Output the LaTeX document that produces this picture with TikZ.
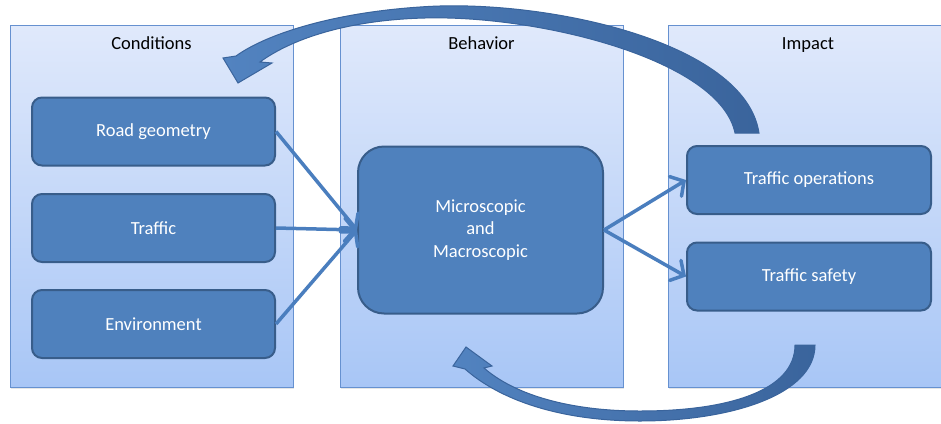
\documentclass[tikz,border=0pt]{standalone}
\usepackage{fontspec}
\setmainfont{Carlito}
\usepackage{tikz}
\usetikzlibrary{arrows.meta}
\usetikzlibrary{shadows}
\definecolor{paneltop}{RGB}{224,233,251}
\definecolor{panelbot}{RGB}{168,198,246}
\definecolor{panelline}{RGB}{102,145,208}
\definecolor{boxfill}{RGB}{79,129,189}
\definecolor{boxline}{RGB}{56,93,138}
\definecolor{linkcol}{RGB}{74,126,190}
\definecolor{bendlight}{RGB}{82,131,192}
\definecolor{benddark}{RGB}{58,100,156}
\tikzset{
	every node/.style={font=\fontsize{18.5}{22.5}\selectfont},
	align=center,
	panel/.style={
		draw=panelline,
		top color=paneltop,
		bottom color=panelbot,
		minimum width=283pt,
		minimum height=362pt,
		inner sep=0pt,
		drop shadow={shadow xshift=1pt,shadow yshift=-1.5pt,opacity=0.2},
	},
	title/.style={
		text=black,
		text height=13pt,
		text depth=4pt,
	},
	box/.style={
		draw=boxline,
		line width=2pt,
		fill=boxfill,
		rounded corners=10pt,
		text=white,
		minimum width=243pt,
		minimum height=68pt,
	},
	bigbox/.style={
		box,
		rounded corners=26pt,
		minimum width=245pt,
		minimum height=167pt,
	},
	link/.style={
		draw=linkcol,
		line width=3.5pt,
		-{Straight Barb[length=10pt,width=23pt,line cap=round]},
	},
	loop arrow/.style={
		draw=benddark,
		line width=1pt,
		left color=bendlight,
		right color=benddark,
	},
}

\begin{document}
\begin{tikzpicture}[x=1pt,y=-1pt]
		\useasboundingbox (0,0) rectangle (941,423);

		% the three stages
		\node[panel] 				(cond) at (151.5,206) {};
		\node[panel] 				(behav) at (481.5,206) {};
		\node[panel,minimum width=273pt] (impact) at (804.5,206) {};

		\node[title] 				(condT) at (151.5,45) {Conditions};
		\node[title] 				(behavT) at (481.5,45) {Behavior};
		\node[title] 				(impactT) at (808,45) {Impact};

		\node[box] 					(road) at (153.5,131.5) {Road geometry};
		\node[box] 					(traffic) at (153.5,228) {Traffic};
		\node[box] 					(env) at (153.5,324) {Environment};

		\node[bigbox] 				(micro) at (480.5,230) {Microscopic\\and\\Macroscopic};

		\node[box,minimum width=244pt] (ops) at (809,180) {Traffic operations};
		\node[box,minimum width=244pt] (safety) at (809,276.5) {Traffic safety};

		\draw[link] 				(road.east) -- (micro.west);
		\draw[link] 				(traffic.east) -- (micro.west);
		\draw[link] 				(env.east) -- (micro.west);
		\draw[link] 				(micro.east) -- (ops.west);
		\draw[link] 				(micro.east) -- (safety.west);

		% feedback arrows
		\path[loop arrow] (759,133) .. controls (745,40) and (540,-2) .. (420,7)
			.. controls (330,13) and (265,35) .. (236,56) -- (223,58) -- (238,83)
			-- (272,63) -- (260,62) .. controls (290,40) and (345,20) .. (425,18)
			.. controls (540,15) and (720,60) .. (735,133) -- cycle;
		\path[loop arrow] (815,345) .. controls (815,395) and (730,421) .. (640,421)
			.. controls (560,421) and (500,400) .. (465,369) -- (453,366) -- (466,347)
			-- (492,366) -- (484,368) .. controls (515,395) and (570,411) .. (640,411)
			.. controls (730,411) and (795,390) .. (795,345) -- cycle;

	\end{tikzpicture}
\end{document}
